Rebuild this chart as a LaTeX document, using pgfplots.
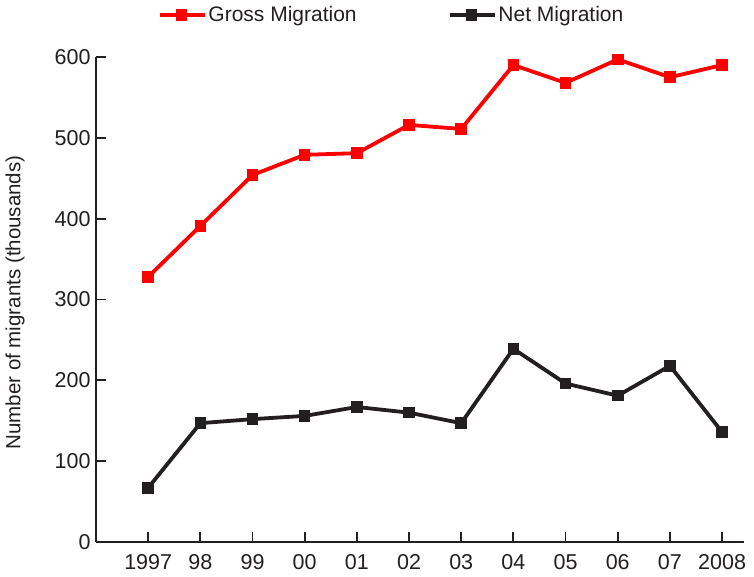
\documentclass[border=0pt]{standalone}
\usepackage{fontspec}
\setmainfont{Liberation Sans}
\usepackage{pgfplots}
\pgfplotsset{compat=1.18}
\definecolor{grossred}{RGB}{255,0,0}
\definecolor{netblack}{RGB}{35,31,32}
\begin{document}
\begin{tikzpicture}
\useasboundingbox (-96pt,-35pt) rectangle (658pt,542pt);
\begin{axis}[
  scale only axis,
  width=648pt, height=485pt,
  xmin=-1, xmax=11.42,
  ymin=0, ymax=600,
  axis x line*=bottom, axis y line*=left,
  axis line style={line width=1.8pt, color=netblack, -},
  tick style={line width=1.8pt, color=netblack},
  tick align=inside,
  major tick length=10pt,
  xtick={0,...,11},
  xticklabels={1997,98,99,00,01,02,03,04,05,06,07,2008},
  ytick={0,100,...,600},
  /pgf/number format/assume math mode=true,
  ticklabel style={font=\fontsize{21.5}{24}\selectfont, text=netblack},
  yticklabel style={xshift=-2pt},
  xticklabel style={yshift=-9pt},
  ylabel={Number of migrants (thousands)},
  ylabel style={font=\fontsize{20.5}{24}\selectfont, text=netblack, at={(rel axis cs:0,0.5)}, anchor=center, yshift=81pt, xshift=-3pt},
  legend columns=2,
  legend style={draw=none, fill=none, at={(0.456,1.087)}, anchor=center,
     font=\fontsize{21}{24}\selectfont, text=netblack,
     /tikz/every even column/.append style={column sep=89pt}},
  legend image code/.code={\draw[mark repeat=2,mark phase=2,#1] plot coordinates {(0pt,0pt) (22pt,0pt) (45pt,0pt)};},
]
\addplot[color=grossred, line width=3.8pt, mark=square*, mark size=5.3pt, mark options={line width=0pt, solid}] coordinates {
(0,328) (1,391) (2,454) (3,479) (4,481) (5,516) (6,511) (7,590) (8,568) (9,597) (10,575) (11,590)};
\addlegendentry{Gross Migration}
\addplot[color=netblack, line width=3.8pt, mark=square*, mark size=5.3pt, mark options={line width=0pt, solid}] coordinates {
(0,67) (1,147) (2,152) (3,156) (4,167) (5,160) (6,147) (7,239) (8,196) (9,181) (10,218) (11,136)};
\addlegendentry{Net Migration}
\end{axis}
\end{tikzpicture}
\end{document}
